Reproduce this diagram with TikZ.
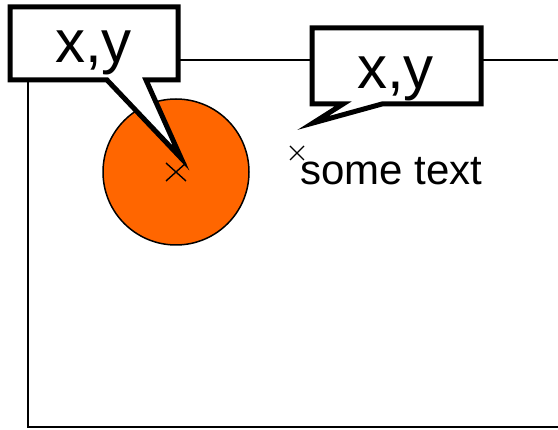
\documentclass[tikz,border=0pt]{standalone}
\usepackage{fontspec}
\setmainfont{Liberation Sans}
\usetikzlibrary{calc}
\begin{document}
\begin{tikzpicture}[x=1pt,y=-1pt,
  frameline/.style={line width=2.6pt, line cap=rect},
  calloutbox/.style={draw=black, fill=white, line width=5pt, line join=miter},
  crossmark/.style={line width=1.4pt},
  bigtext/.style={inner sep=0pt, anchor=base, font=\fontsize{60}{60}\selectfont},
  smalltext/.style={inner sep=0pt, anchor=base, font=\fontsize{42}{42}\selectfont}]
\useasboundingbox (0,0) rectangle (558,430);
% frame
\coordinate (ftl) at (28,60);
\coordinate (fbl) at (28,427);
\coordinate (fbr) at (570,427);
\coordinate (ftr) at (570,60);
\draw[frameline] (ftr) -- (ftl) -- (fbl) -- (fbr);
% circle
\node[circle, draw=black, line width=1.5pt, fill={rgb,255:red,255;green,102;blue,0},
      minimum size=146pt, inner sep=0pt] (c) at (176,172) {};
\coordinate (c1) at (176,172);
\draw[crossmark] ($(c1)+(-10,-9)$) -- ($(c1)+(10,9)$) ($(c1)+(-10,9)$) -- ($(c1)+(10,-9)$);
% second point
\coordinate (p2) at (297,153);
\draw[crossmark] ($(p2)+(-7,-7)$) -- ($(p2)+(7,7)$) ($(p2)+(-7,7)$) -- ($(p2)+(7,-7)$);
\node[smalltext] (st) at (391.5,185) {some text};
% callout 1
\coordinate (t1) at (181,158);
\draw[calloutbox] (10,7) -- (178,7) -- (178,80) -- (146,80) -- (t1) -- (107,80) -- (10,80) -- cycle;
\node[bigtext] (l1) at (93.5,63) {x,y};
% callout 2
\coordinate (t2) at (313,123);
\draw[calloutbox] (312,28) -- (481,28) -- (481,104) -- (382,104) -- (t2) -- (343,104) -- (312,104) -- cycle;
\node[bigtext] (l2) at (395.5,89) {x,y};
\end{tikzpicture}
\end{document}
